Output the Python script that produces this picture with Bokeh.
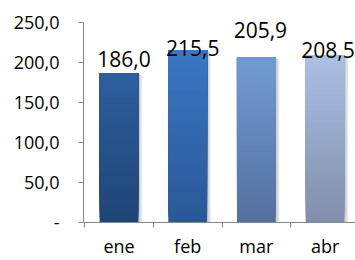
from bokeh.plotting import figure
from bokeh.models import Range1d, FixedTicker, ColumnDataSource
from bokeh.embed import file_html
from bokeh.resources import INLINE
from bokeh.core.properties import value

# ---- data ----
months = ["ene", "feb", "mar", "abr"]
values = [186.0, 215.5, 205.9, 208.5]
value_labels = ["186,0", "215,5", "205,9", "208,5"]
y_ticks = [0, 50, 100, 150, 200, 250]
y_tick_labels = ["-", "50,0", "100,0", "150,0", "200,0", "250,0"]

# ---- style ----
top_colors = ["#2d5e9d", "#3a77c5", "#729bd5", "#abc0e3"]
bottom_colors = ["#1f4576", "#2a5795", "#536f9e", "#808eab"]
label_dx = [5, 5, 4, 3]
label_dy = [-15, -2, -28, -6]
AXIS = "#868686"
FONT = "Open Sans"
BAR_W = 0.565
SHADOW_W = 0.05
N_BANDS = 30


def mix(c1, c2, t):
    a = [int(c1[i:i + 2], 16) for i in (1, 3, 5)]
    b = [int(c2[i:i + 2], 16) for i in (1, 3, 5)]
    return "#%02x%02x%02x" % tuple(round(a[j] + (b[j] - a[j]) * t) for j in range(3))


xs = list(range(len(months)))

p = figure(width=355, height=260, output_backend="svg", toolbar_location=None,
           x_range=Range1d(-0.517, 3.443), y_range=Range1d(0, 277.2),
           min_border_left=83, min_border_right=0, min_border_top=0,
           min_border_bottom=36)
p.background_fill_color = "white"
p.border_fill_color = "white"
p.outline_line_color = None
p.grid.visible = False

# soft shadow on the right of each bar
p.quad(left=[i + BAR_W / 2 for i in xs], right=[i + BAR_W / 2 + SHADOW_W for i in xs],
       bottom=[0] * len(xs), top=[v - 2 for v in values],
       fill_color="#e2e2e2", line_color=None)
p.quad(left=[i + BAR_W / 2 for i in xs], right=[i + BAR_W / 2 + SHADOW_W / 2 for i in xs],
       bottom=[0] * len(xs), top=[v - 1 for v in values],
       fill_color="#cfcfcf", line_color=None)

# gradient bars: overlapping bands, each from its level up to the bar top
L, R, B, T, C = [], [], [], [], []
for i, v in zip(xs, values):
    for k in range(N_BANDS):
        L.append(i - BAR_W / 2)
        R.append(i + BAR_W / 2)
        B.append(v * k / N_BANDS)
        T.append(v)
        C.append(mix(bottom_colors[i], top_colors[i], (k + 0.5) / N_BANDS))
bands = ColumnDataSource(dict(left=L, right=R, bottom=B, top=T, color=C))
p.quad(left="left", right="right", bottom="bottom", top="top", source=bands,
       fill_color="color", line_color=None)

labels = ColumnDataSource(dict(x=xs, y=values, text=value_labels,
                               dx=label_dx, dy=label_dy))
p.text(x="x", y="y", text="text", source=labels, x_offset="dx", y_offset="dy",
       text_font=value(FONT), text_font_size="21px", text_align="center",
       text_baseline="alphabetic", text_color="#000000")

# x axis: names at category centres, tick marks at category boundaries
xa = p.xaxis[0]
xa.ticker = FixedTicker(ticks=xs, minor_ticks=[i + 0.5 for i in range(-1, len(months) - 1)])
xa.major_label_overrides = {i: m for i, m in zip(xs, months)}
xa.major_tick_line_color = None
xa.major_tick_in = 0
xa.major_tick_out = 5
xa.minor_tick_in = 0
xa.minor_tick_out = 5
xa.minor_tick_line_color = AXIS
xa.axis_line_color = AXIS
xa.major_label_text_font = FONT
xa.major_label_text_font_size = "18px"
xa.major_label_text_color = "#000000"
xa.major_label_standoff = 6

# y axis
ya = p.yaxis[0]
ya.bounds = (0, 250)
ya.ticker = FixedTicker(ticks=y_ticks, minor_ticks=[])
ya.major_label_overrides = {t: s for t, s in zip(y_ticks, y_tick_labels)}
ya.major_tick_in = 0
ya.major_tick_out = 5
ya.major_tick_line_color = AXIS
ya.axis_line_color = AXIS
ya.minor_tick_line_color = None
ya.major_label_text_font = FONT
ya.major_label_text_font_size = "18px"
ya.major_label_text_color = "#000000"
ya.major_label_standoff = 19

open("out.html", "w").write(file_html(p, INLINE))
